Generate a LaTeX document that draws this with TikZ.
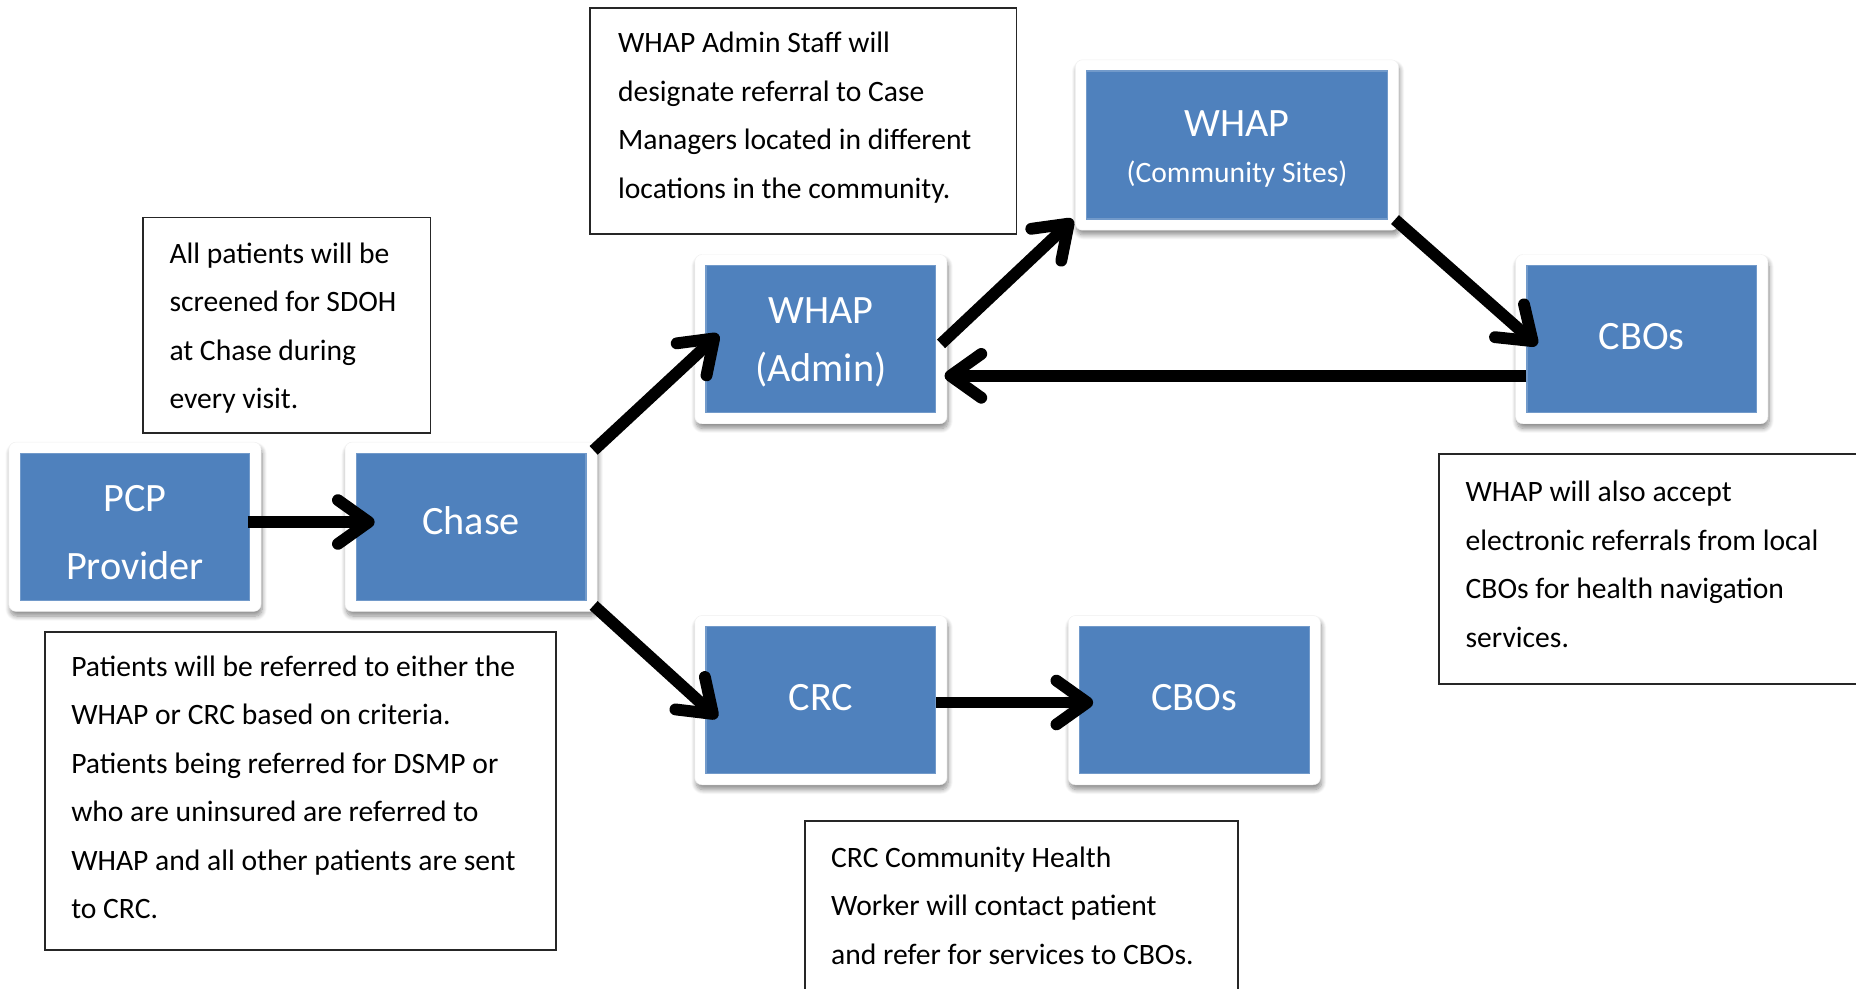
\documentclass[tikz,border=0pt]{standalone}
\usepackage{fontspec}
\setmainfont{Carlito}
\usetikzlibrary{arrows.meta,shadows.blur,fit,backgrounds,calc}
\definecolor{boxblue}{HTML}{4F81BD}
\newcommand{\mvshift}[2]{\raisebox{#1}[\height][\depth]{#2}}
\begin{document}
\begin{tikzpicture}[x=1pt,y=-1pt,
  bluebox/.style={fill=boxblue, draw=boxblue!80!white, line width=1pt, text=white,
    font=\fontsize{34}{40}\selectfont, align=center, inner sep=0pt,
    minimum width=194pt, minimum height=124pt},
  framebox/.style={fill=white, draw=black!6, rounded corners=6pt, inner sep=9pt,
    blur shadow={shadow xshift=1pt, shadow yshift=-4pt, shadow blur radius=4pt,
      shadow blur steps=10, shadow opacity=45}},
  notebox/.style={draw=black!85, line width=1.5pt, anchor=north west, inner sep=0pt},
  notetext/.style={anchor=west, align=left, inner sep=0pt, font=\fontsize{25}{41}\selectfont},
  flow/.style={line width=10pt, -{Straight Barb[length=26pt,width=37pt,round]}}]
\useasboundingbox (0,0) rectangle (1568,835);
\clip (0,0) rectangle (1568,835);

% blue process boxes
\node[bluebox] (pcp) at (114,445) {\mvshift{-5pt}{PCP}\\[18pt]\mvshift{-5pt}{Provider}};
\node[bluebox] (chase) at (398,445) {\mvshift{5pt}{Chase}};
\node[bluebox] (admin) at (693.5,286.5) {\mvshift{-2pt}{WHAP}\\[7pt]\mvshift{-4pt}{(Admin)}};
\node[bluebox, minimum width=254pt, minimum height=125pt] (community) at (1045,122.5)
  {\mvshift{-3pt}{WHAP}\\[-2pt]{\fontsize{25}{30}\selectfont\mvshift{-4pt}{(Community Sites)}}};
\node[bluebox] (cbor) at (1387,286.5) {\mvshift{2pt}{CBOs}};
\node[bluebox] (crc) at (693.5,591.5) {\mvshift{2pt}{CRC}};
\node[bluebox] (cbob) at (1009,591.5) {\mvshift{2pt}{CBOs}};

% white frames with shadow
\begin{scope}[on background layer]
  \node[framebox, fit=(pcp)] (pcpf) {};
  \node[framebox, fit=(chase)] (chasef) {};
  \node[framebox, fit=(admin)] (adminf) {};
  \node[framebox, fit=(community)] (communityf) {};
  \node[framebox, fit=(cbor)] (cborf) {};
  \node[framebox, fit=(crc)] (crcf) {};
  \node[framebox, fit=(cbob)] (cbobf) {};
\end{scope}

% note boxes
\node[notebox, minimum width=243pt, minimum height=182pt] (n1) at (120,183) {};
\node[notetext] at ($(n1.west)+(23,2.5)$) {All patients will be\\screened for SDOH\\at Chase during\\every visit.};

\node[notebox, minimum width=360pt, minimum height=191pt] (n2) at (498,6) {};
\node[notetext] at ($(n2.west)+(24,-3)$) {WHAP Admin Staff will\\designate referral to Case\\Managers located in different\\locations in the community.};

\node[notebox, minimum width=432pt, minimum height=269pt] (n3) at (37,533) {};
\node[notetext] at ($(n3.west)+(23,-3)$) {Patients will be referred to either the\\WHAP or CRC based on criteria.\\Patients being referred for DSMP or\\who are uninsured are referred to\\WHAP and all other patients are sent\\to CRC.};

\node[notebox, minimum width=366pt, minimum height=150pt] (n4) at (679,693) {};
\node[notetext] at ($(n4.north west)+(23,72)$) {CRC Community Health\\Worker will contact patient\\and refer for services to CBOs.};

\node[notebox, minimum width=400pt, minimum height=194pt] (n5) at (1215,383) {};
\node[notetext] at ($(n5.west)+(23,-4)$) {WHAP will also accept\\electronic referrals from local\\CBOs for health navigation\\services.};

% connectors
\draw[flow] ($(pcp.east)+(-2,-4)$) -- ($(chase.west)+(16,-4)$);
\draw[flow] ($(chase.north east)+(6,-2)$) -- ($(admin.west)+(11,-4)$);
\draw[flow] ($(chase.south east)+(6,4)$) -- ($(crc.west)+(10,15)$);
\draw[flow] ($(admin.east)+(4,4)$) -- ($(community.south west)+(-11,0)$);
\draw[flow] ($(community.south east)+(6,0)$) -- ($(cbor.west)+(9,5)$);
\draw[flow] ($(cbor.west)+(0,31)$) -- ($(admin.east)+(7,31)$);
\draw[flow] ($(crc.east)+(0,2)$) -- ($(cbob.west)+(12,2)$);
\end{tikzpicture}
\end{document}
